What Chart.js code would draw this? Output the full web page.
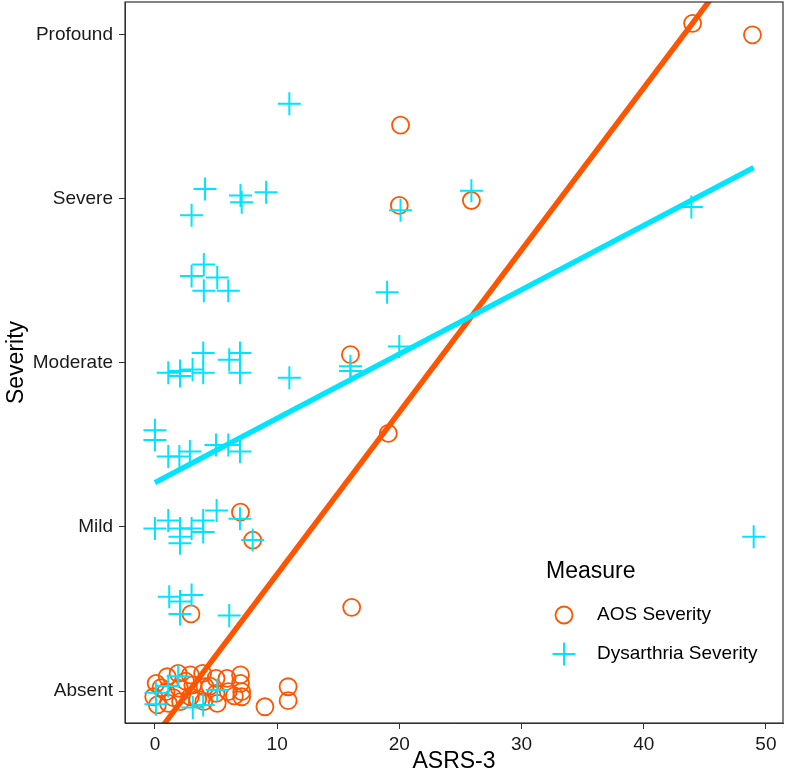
<!DOCTYPE html>
<html>
<head>
<meta charset="utf-8">
<script src="https://cdn.jsdelivr.net/npm/chart.js@4.4.1/dist/chart.umd.min.js"></script>
<style>
  html, body { margin: 0; padding: 0; background: #fff; }
  #wrap { width: 787px; height: 781px; }
</style>
</head>
<body>
<div id="wrap"><canvas id="severity-chart" width="787" height="781"></canvas></div>
<script>
// Severity vs ASRS-3 scatter (AOS + dysarthria) with linear fits

const severityLabels = ['Absent', 'Mild', 'Moderate', 'Severe', 'Profound'];
const severityTicks = [0, 1, 2, 3, 4];
const asrsTicks = [0, 10, 20, 30, 40, 50];

// AOS severity (circles), jittered values
const aosX = [44.0, 48.9, 20.1, 20.0, 25.9, 16.0, 19.1, 7.0, 8.0, 2.95, 16.1,
  0.1, -0.1, 0.2, 1.0, 0.9, 1.1, 1.9, 2.0, 2.1, 2.9, 3.1, 2.9, 3.9, 4.1, 4.0,
  5.0, 5.0, 5.1, 5.9, 6.0, 7.0, 7.0, 7.1, 7.1, 9.0, 10.9, 10.9,
  0.5, 1.5, 2.5, 3.5, 4.5, 6.5];
const aosY = [4.07, 4.00, 3.45, 2.96, 2.99, 2.05, 1.57, 1.09, 0.92, 0.47, 0.51,
  0.047, -0.035, -0.085, 0.087, -0.004, -0.075, 0.108, 0.016, -0.065, 0.098, 0.037, -0.035, 0.108, 0.026, -0.065,
  0.077, -0.014, -0.075, 0.077, -0.004, 0.098, 0.047, -0.004, -0.035, -0.096, 0.026, -0.059,
  0.02, -0.04, 0.06, -0.05, 0.03, -0.03];

// Dysarthria severity (crosses)
const dysX = [11.0, 4.1, 3.0, 7.0, 7.1, 9.1, 20.1, 25.9, 43.9,
  4.0, 3.0, 5.1, 4.0, 6.0, 19.0,
  20.0, 16.0, 16.0, 11.0, 3.95, 6.96, 6.08, 6.96, 1.09, 2.05, 2.05, 3.08, 3.95,
  0, 0, 1.09, 2.0, 2.86, 5.0, 6.0, 6.96,
  0, 1.09, 2.05, 2.05, 2.05, 3.0, 3.95, 3.95, 5.05, 6.96, 8.0, 49.0,
  1.17, 3.0, 2.05, 2.05, 6.08,
  0.08, 0.08, 1.09, 1.9, 3.1, 3.95, 5.1];
const dysY = [3.58, 3.06, 2.90, 3.02, 2.98, 3.04, 2.93, 3.05, 2.95,
  2.60, 2.53, 2.52, 2.44, 2.44, 2.43,
  2.10, 1.98, 1.95, 1.91, 2.06, 2.06, 2.02, 1.94, 1.94, 1.92, 1.95, 1.96, 1.94,
  1.59, 1.53, 1.43, 1.43, 1.46, 1.50, 1.50, 1.46,
  0.99, 1.04, 0.99, 0.94, 0.90, 0.99, 1.04, 0.97, 1.10, 1.05, 0.92, 0.94,
  0.575, 0.585, 0.545, 0.47, 0.46,
  -0.01, -0.08, 0.03, 0.09, -0.10, -0.085, 0.006];

// Linear fit end points
const aosFitX = [0, 49];
const aosFitY = [-0.276, 4.565];
const dysFitX = [0, 49];
const dysFitY = [1.27, 3.19];

const ORANGE = '#FF5500';
const CYAN = '#00E5FF';
const AXIS_GREY = '#333333';
const FONT = "'Liberation Sans', Arial, Helvetica, sans-serif";

Chart.defaults.font.family = FONT;

const toPoints = (xs, ys) => xs.map((x, i) => ({ x: x, y: ys[i] }));

// niente padding extra per le etichette che sporgono
function zeroPadding(axis) {
    axis.paddingTop = 0;
    axis.paddingBottom = 0;
    axis.paddingLeft = 0;
    axis.paddingRight = 0;
}

// Bordo del pannello + legenda interna
const panelPlugin = {
    id: 'panel',
    afterDraw(chart) {
        const { ctx, chartArea } = chart;
        ctx.save();
        ctx.strokeStyle = AXIS_GREY;
        ctx.lineWidth = 1.2;
        ctx.strokeRect(chartArea.left, chartArea.top, chartArea.right - chartArea.left, chartArea.bottom - chartArea.top);

        // legend
        ctx.fillStyle = '#000';
        ctx.textBaseline = 'middle';
        ctx.textAlign = 'left';
        ctx.font = `23px ${FONT}`;
        ctx.fillText('Measure', 546, 572);

        ctx.font = `19px ${FONT}`;
        ctx.fillText('AOS Severity', 597, 615);
        ctx.fillText('Dysarthria Severity', 597, 654);

        ctx.strokeStyle = ORANGE;
        ctx.lineWidth = 1.8;
        ctx.beginPath();
        ctx.arc(564, 615, 8.5, 0, Math.PI * 2);
        ctx.stroke();

        ctx.strokeStyle = CYAN;
        ctx.lineWidth = 2;
        ctx.beginPath();
        ctx.moveTo(552.5, 654); ctx.lineTo(575.5, 654);
        ctx.moveTo(564, 642.5); ctx.lineTo(564, 665.5);
        ctx.stroke();
        ctx.restore();
    }
};

new Chart(document.getElementById('severity-chart'), {
    type: 'scatter',
    data: {
        datasets: [
            {
                label: 'Dysarthria fit',
                type: 'line',
                data: toPoints(dysFitX, dysFitY),
                borderColor: CYAN,
                borderWidth: 5.5,
                pointRadius: 0,
                fill: false,
                clip: 0
            },
            {
                label: 'AOS fit',
                type: 'line',
                data: toPoints(aosFitX, aosFitY),
                borderColor: ORANGE,
                borderWidth: 5.5,
                pointRadius: 0,
                fill: false,
                clip: 0
            },
            {
                label: 'Dysarthria Severity',
                data: toPoints(dysX, dysY),
                pointStyle: 'cross',
                pointRadius: 11.5,
                borderColor: CYAN,
                borderWidth: 2
            },
            {
                label: 'AOS Severity',
                data: toPoints(aosX, aosY),
                pointStyle: 'circle',
                pointRadius: 8.5,
                borderColor: ORANGE,
                backgroundColor: 'rgba(0,0,0,0)',
                borderWidth: 1.8
            }
        ]
    },
    options: {
        responsive: false,
        animation: false,
        events: [],
        layout: { autoPadding: false, padding: { top: 2, right: 4, bottom: 0, left: 0 } },
        plugins: {
            legend: { display: false },
            tooltip: { enabled: false }
        },
        scales: {
            x: {
                type: 'linear',
                min: -2.45,
                max: 51.4,
                afterBuildTicks: axis => { axis.ticks = asrsTicks.map(v => ({ value: v })); },
                afterFit: axis => { axis.height = 58; zeroPadding(axis); },
                grid: { drawOnChartArea: false, drawTicks: true, tickLength: 6, color: AXIS_GREY },
                border: { display: true, color: AXIS_GREY },
                ticks: {
                    font: { size: 19 },
                    color: '#1a1a1a',
                    padding: 4,
                    maxRotation: 0
                },
                title: {
                    display: true,
                    text: 'ASRS-3',
                    font: { size: 23 },
                    color: '#000',
                    padding: { top: 0, bottom: 6 }
                }
            },
            y: {
                type: 'linear',
                min: -0.195,
                max: 4.2,
                afterBuildTicks: axis => { axis.ticks = severityTicks.map(v => ({ value: v })); },
                afterFit: axis => { axis.width = 125; zeroPadding(axis); },
                grid: { drawOnChartArea: false, drawTicks: true, tickLength: 6, color: AXIS_GREY },
                border: { display: true, color: AXIS_GREY },
                ticks: {
                    font: { size: 19 },
                    color: '#1a1a1a',
                    padding: 6,
                    callback: value => severityLabels[value]
                },
                title: {
                    display: true,
                    text: 'Severity',
                    font: { size: 23 },
                    color: '#000',
                    padding: { top: 3, bottom: 0 }
                }
            }
        }
    },
    plugins: [panelPlugin]
});
</script>
</body>
</html>
